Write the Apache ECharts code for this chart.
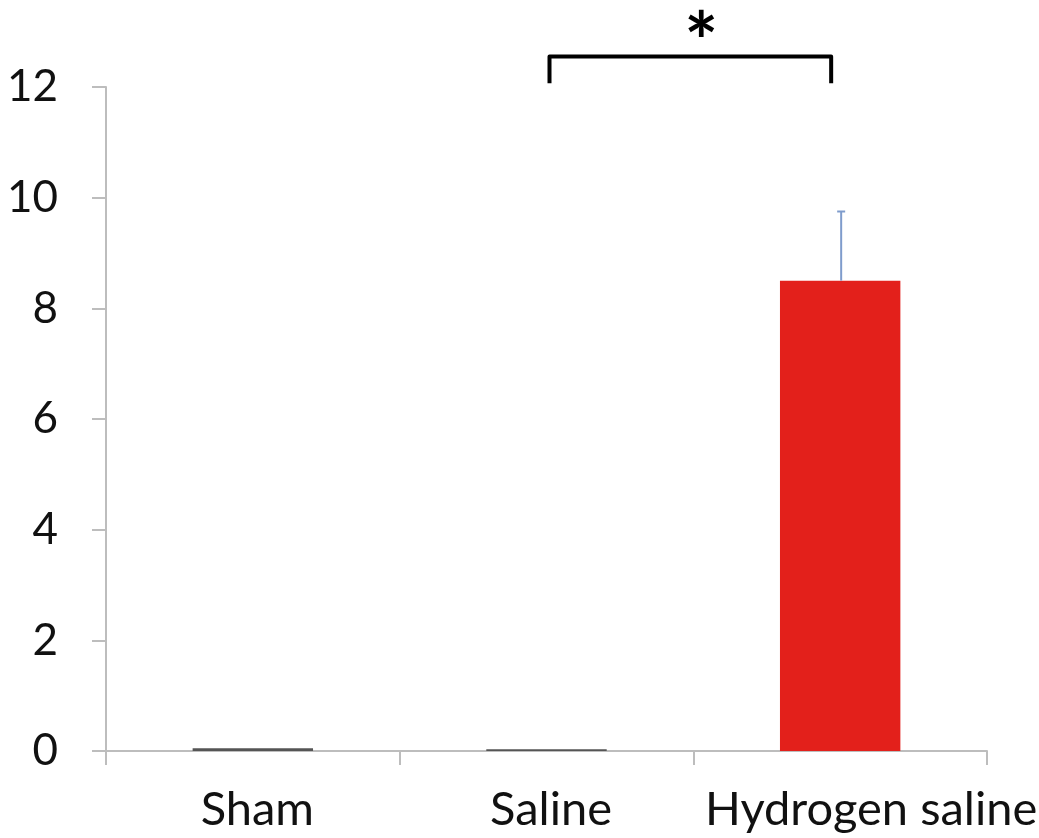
<!DOCTYPE html>
<html>
<head>
<meta charset="utf-8">
<script src="https://cdn.jsdelivr.net/npm/echarts@6/dist/echarts.min.js"></script>
<style>
  html, body { margin: 0; padding: 0; background: #fff; }
  #chart { width: 1039px; height: 838px; }
</style>
</head>
<body>
<div id="chart"></div>
<script>
const groups = ['Sham', 'Saline', 'Hydrogen saline']
const means = [0.05, 0.03, 8.5]
const upperErr = [0.05, 0.03, 9.75]
const yTicks = [0, 2, 4, 6, 8, 10, 12]
// significance bracket: from group index, to group index, top value, leg bottom value
const bracket = [[1, 2, 12.55, 12.07]]
const sigLabel = '*'

const chart = echarts.init(document.getElementById('chart'))
const font = 'Lato, "Open Sans", sans-serif'
// labels in the original sit a bit right of the band centres
const labelShift = [9, 9, 62]

const option = {
  animation: false,
  grid: { left: 106, right: 52, top: 87, bottom: 87, outerBoundsMode: 'none', containLabel: false },
  xAxis: {
    type: 'category',
    data: groups.map((g, i) => ({ value: g, textStyle: { padding: [0, 0, 0, labelShift[i]] } })),
    axisLine: { lineStyle: { color: '#bdbdbd', width: 2 } },
    axisTick: { show: true, length: 14, lineStyle: { color: '#bdbdbd', width: 2 } },
    axisLabel: { color: '#111', fontSize: 47, fontFamily: font, margin: 35, interval: 0 }
  },
  yAxis: {
    type: 'value',
    min: yTicks[0],
    max: yTicks[yTicks.length - 1],
    interval: 2,
    splitLine: { show: false },
    axisLine: { show: true, lineStyle: { color: '#bdbdbd', width: 2 } },
    axisTick: { show: true, length: 14, lineStyle: { color: '#bdbdbd', width: 2 } },
    axisLabel: { color: '#111', fontSize: 44, fontFamily: font, margin: 48 }
  },
  series: [
    {
      type: 'bar',
      data: means.map((v, i) => ({
        value: v,
        itemStyle: { color: i === 2 ? '#e3201b' : '#555' }
      })),
      barWidth: '41%'
    },
    {
      // error bars (upper only)
      type: 'custom',
      data: means.map((v, i) => [i, v, upperErr[i]]),
      renderItem: function (params, api) {
        const lo = api.coord([api.value(0), api.value(1)])
        const hi = api.coord([api.value(0), api.value(2)])
        if (lo[1] - hi[1] < 2) return null
        const x = lo[0] + 1
        const st = { stroke: '#7f9ccc', lineWidth: 2 }
        return {
          type: 'group',
          children: [
            { type: 'line', shape: { x1: x, y1: lo[1], x2: x, y2: hi[1] }, style: st },
            { type: 'line', shape: { x1: x - 4, y1: hi[1], x2: x + 4, y2: hi[1] }, style: st }
          ]
        }
      },
      z: 5
    },
    {
      type: 'custom',
      clip: false,
      data: bracket,
      renderItem: function (params, api) {
        const a = api.coord([api.value(0), api.value(2)])
        const b = api.coord([api.value(1), api.value(2)])
        const bot = api.coord([api.value(0), api.value(3)])[1]
        const x1 = a[0] + 3
        const x2 = b[0] - 9
        return {
          type: 'group',
          children: [
            {
              type: 'polyline',
              shape: { points: [[x1, bot], [x1, a[1]], [x2, a[1]], [x2, bot]] },
              style: { stroke: '#000', lineWidth: 4, fill: null, lineJoin: 'round' }
            },
            {
              type: 'text',
              style: {
                x: (x1 + x2) / 2 + 11, y: a[1] - 11,
                text: sigLabel,
                fill: '#000',
                font: 'bold 80px ' + font,
                align: 'center',
                verticalAlign: 'middle'
              }
            }
          ]
        }
      }
    }
  ]
}
chart.setOption(option)
</script>
</body>
</html>
